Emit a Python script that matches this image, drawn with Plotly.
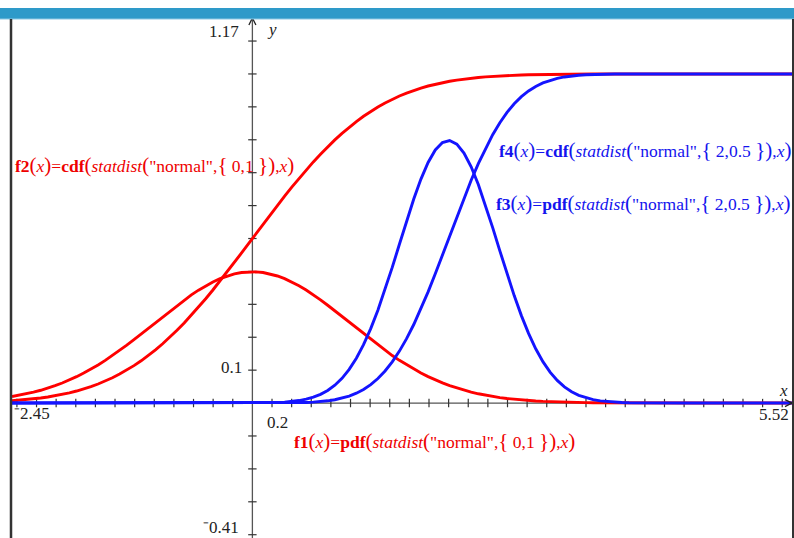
import math
import numpy as np
import plotly.graph_objects as go

# Graph window
x_min, x_max = -2.45, 5.52
y_min, y_max = -0.41, 1.17
x_scale, y_scale = 0.2, 0.1

# Functions: name, kind, mean, sd, colour
names = ["f1", "f2", "f3", "f4"]
kinds = ["pdf", "cdf", "pdf", "cdf"]
means = [0, 0, 2, 2]
sds = [1, 1, 0.5, 0.5]
colors = ["#ff0000", "#ff0000", "#1414ff", "#1414ff"]
params_text = ["0,1", "0,1", "2,0.5", "2,0.5"]

W, H = 794, 538
PLOT_L, PLOT_T = 12, 18


def px(x):
    return x / W


def py(y):
    return 1 - y / H


def normal(kind, mu, sd, x):
    if kind == "pdf":
        return np.exp(-0.5 * ((x - mu) / sd) ** 2) / (sd * math.sqrt(2 * math.pi))
    return np.array([0.5 * (1 + math.erf((v - mu) / (sd * math.sqrt(2)))) for v in x])


xs = np.linspace(x_min, x_max, 110)

fig = go.Figure()

# tick marks
xt = [t for t in np.arange(-12, 28) * x_scale if x_min < t < x_max and abs(t) > 1e-9]
yt = [t for t in np.arange(-4, 12) * y_scale if y_min < t < y_max and abs(t) > 1e-9]
fig.add_trace(go.Scatter(x=xt, y=[0] * len(xt), mode="markers", hoverinfo="skip",
                         marker=dict(symbol="line-ns", size=6, line=dict(width=1.2, color="#333"))))
fig.add_trace(go.Scatter(x=[0] * len(yt), y=yt, mode="markers", hoverinfo="skip",
                         marker=dict(symbol="line-ew", size=6, line=dict(width=1.2, color="#333"))))

for i in [1, 0, 3, 2]:
    ys = normal(kinds[i], means[i], sds[i], xs)
    fig.add_trace(go.Scatter(x=xs, y=ys, mode="lines", name=names[i],
                             line=dict(color=colors[i], width=2.9)))

shapes = [
    # axes
    dict(type="line", xref="x", yref="y", x0=x_min, x1=x_max, y0=0, y1=0,
         line=dict(color="#555", width=1.3), layer="below"),
    dict(type="line", xref="x", yref="y", x0=0, x1=0, y0=y_min, y1=y_max,
         line=dict(color="#555", width=1.3), layer="below"),
    # axis arrows
    dict(type="path", xref="x", yref="y", xsizemode="pixel", ysizemode="pixel",
         xanchor=0, yanchor=y_max, path="M -3.5 -7 L 0 0 L 3.5 -7",
         line=dict(color="#222", width=1.3)),
    dict(type="path", xref="x", yref="y", xsizemode="pixel", ysizemode="pixel",
         xanchor=x_max, yanchor=0, path="M -9 3.5 L -2 0 L -9 -3.5",
         line=dict(color="#222", width=1.3)),
    # header bar and frame
    dict(type="rect", xref="paper", yref="paper", x0=0, x1=1, y0=py(19), y1=py(8),
         fillcolor="#2e9ac9", line=dict(width=0)),
    dict(type="line", xref="paper", yref="paper", x0=0, x1=1, y0=py(19), y1=py(19),
         line=dict(color="#8cc8e3", width=1)),
    dict(type="line", xref="paper", yref="paper", x0=px(11), x1=px(11), y0=0, y1=py(19),
         line=dict(color="#333", width=2.5)),
    dict(type="line", xref="paper", yref="paper", x0=px(793), x1=px(793), y0=0, y1=py(19),
         line=dict(color="#333", width=2)),
]

serif = "Liberation Serif"
num_font = dict(family=serif, size=17, color="#222")


def fmt(v):
    s = ("%g" % v)
    return s.replace("-", "\u207b")


ann = [
    dict(x=px(241), y=py(32), text=fmt(y_max), xanchor="right", font=num_font),
    dict(x=px(265), y=py(30), text="<i>y</i>", xanchor="left", font=num_font),
    dict(x=px(244), y=py(367), text=fmt(y_scale), xanchor="right", font=num_font),
    dict(x=px(265), y=py(422), text=fmt(x_scale), xanchor="left", font=num_font),
    dict(x=px(12), y=py(413), text=fmt(x_min), xanchor="left", font=num_font),
    dict(x=px(791), y=py(414), text=fmt(x_max), xanchor="right", font=num_font),
    dict(x=px(790), y=py(390), text="<i>x</i>", xanchor="right", font=num_font),
    dict(x=px(241), y=py(527), text=fmt(y_min), xanchor="right", font=num_font),
]


def big(s):
    return '<span style="font-size:21px">%s</span>' % s


def label(i):
    return ("<b>%s</b>%s<i>x</i>%s=<b>%s</b>%s<i>statdist</i>%s\"normal\",%s %s %s%s,<i>x</i>%s"
            % (names[i], big("("), big(")"), kinds[i], big("("), big("("),
               big("{"), params_text[i], big("}"), big(")"), big(")")))


lab_font = lambda c: dict(family=serif, size=17.5, color=c)
ann += [
    dict(x=px(13), y=py(165), text=label(1), xanchor="left", font=lab_font("#ee0000")),
    dict(x=px(292), y=py(441), text=label(0), xanchor="left", font=lab_font("#ee0000")),
    dict(x=px(497), y=py(150), text=label(3), xanchor="left", font=lab_font("#1414ee")),
    dict(x=px(494), y=py(203), text=label(2), xanchor="left", font=lab_font("#1414ee")),
]
for a in ann:
    a.update(xref="paper", yref="paper", showarrow=False, yanchor="middle")

fig.update_layout(
    width=W, height=H, margin=dict(l=0, r=0, t=0, b=0),
    paper_bgcolor="white", plot_bgcolor="white", showlegend=False,
    xaxis=dict(range=[x_min, x_max], domain=[PLOT_L / W, 1], visible=False, fixedrange=True),
    yaxis=dict(range=[y_min, y_max], domain=[0, 1 - PLOT_T / H], visible=False, fixedrange=True),
    shapes=shapes, annotations=ann,
)

fig.write_html("out.html")
